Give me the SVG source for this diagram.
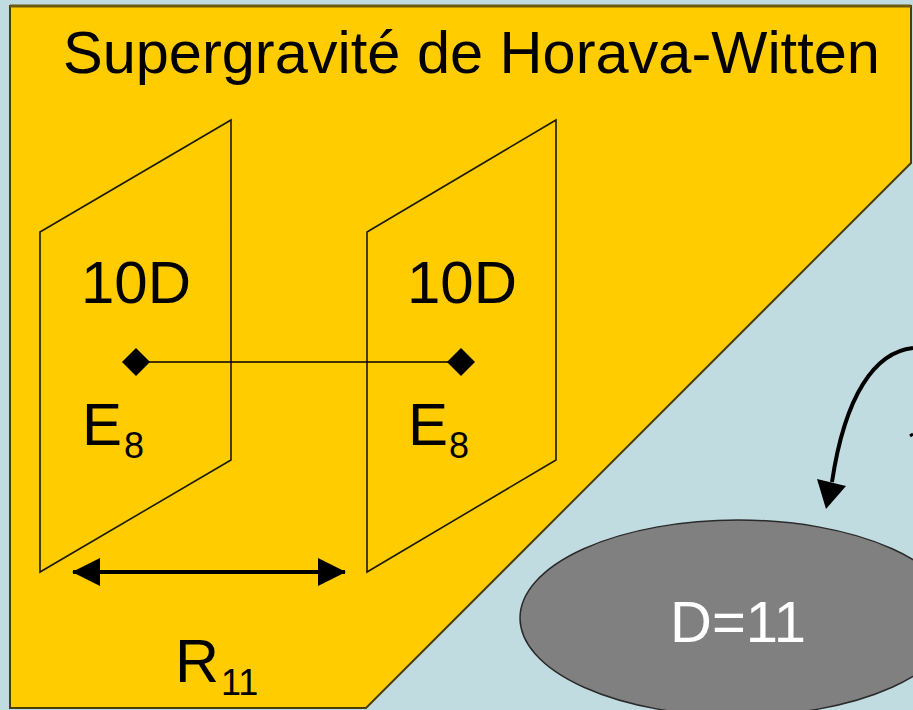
<svg xmlns="http://www.w3.org/2000/svg" width="913" height="710" viewBox="0 0 913 710">
<style>
.lbl{font-family:"Liberation Sans",Arial,sans-serif;fill:#000}
.plane{fill:none;stroke:#1a1a00;stroke-width:1.6}
</style>
<defs>
<marker id="dia" viewBox="-15 -15 30 30" markerWidth="30" markerHeight="30" markerUnits="userSpaceOnUse" orient="auto">
<polygon points="-14,0 0,-14 14,0 0,14" fill="#000"/>
</marker>
<marker id="ah" viewBox="0 -14 28 28" refX="27" refY="0" markerWidth="28" markerHeight="28" markerUnits="userSpaceOnUse" orient="auto-start-reverse">
<polygon points="0,-14 28,0 0,14" fill="#000"/>
</marker>
</defs>
<rect x="0" y="0" width="913" height="710" fill="#C1DCE0"/>
<g id="background-panel">
<polygon points="10,6 911,6 911,163 366,708 10,708" fill="#FFCC00" stroke="#4a3f00" stroke-width="2"/>
<line x1="10" y1="6" x2="911" y2="6" stroke="#6b5a10" stroke-width="3"/>
</g>
<g id="title">
<text class="lbl" x="63" y="73" font-size="59.5">Supergravité de Horava-Witten</text>
</g>
<g id="plane-left">
<polygon class="plane" points="40,232 231,120 231,460 40,572"/>
<text class="lbl" x="81" y="303" font-size="60">10D</text>
<text class="lbl" x="82" y="445" font-size="60">E<tspan font-size="36" x="124" y="458">8</tspan></text>
</g>
<g id="plane-right">
<polygon class="plane" points="367,232 556,120 556,460 367,572"/>
<text class="lbl" x="407" y="303" font-size="60">10D</text>
<text class="lbl" x="408" y="445" font-size="60">E<tspan font-size="36" x="449" y="458">8</tspan></text>
</g>
<g id="ellipse-d11">
<ellipse cx="738" cy="618" rx="218" ry="98" fill="#808080" stroke="#2a2a2a" stroke-width="1.5"/>
<text x="738" y="642" font-size="58" text-anchor="middle" font-family="Liberation Sans,Arial,sans-serif" fill="#fff">D=11</text>
</g>
<g id="r11-label">
<text class="lbl" x="175" y="682" font-size="61">R</text>
<text class="lbl" x="221" y="695" font-size="36">11</text>
</g>
<g id="connectors">
<line x1="136" y1="362" x2="461" y2="362" stroke="#000" stroke-width="1.6" marker-start="url(#dia)" marker-end="url(#dia)"/>
<line x1="73" y1="572" x2="345" y2="572" stroke="#000" stroke-width="4" marker-start="url(#ah)" marker-end="url(#ah)"/>
<path d="M913,348 C875,352 845,395 832,482" fill="none" stroke="#000" stroke-width="4"/>
<polygon points="817,479 846,486 826,509" fill="#000"/>
<line x1="910" y1="436" x2="913" y2="434" stroke="#000" stroke-width="3"/>
</g>
</svg>
